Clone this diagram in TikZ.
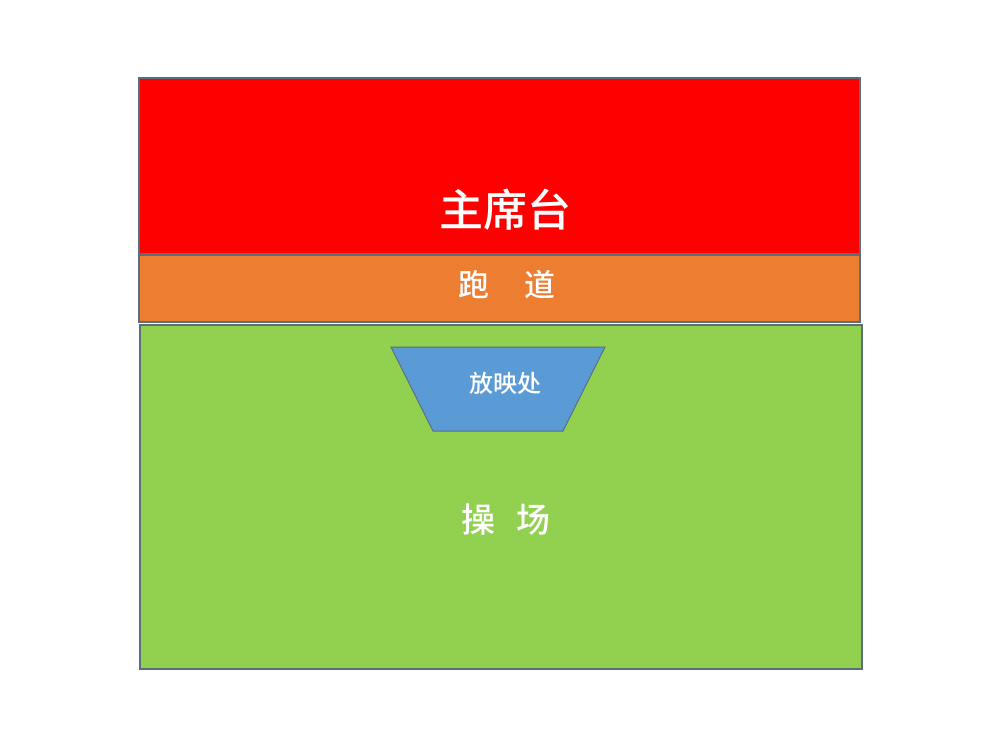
\documentclass[tikz,border=0pt]{standalone}
\usepackage{fontspec}
\newfontfamily\cjk{Noto Sans CJK SC Medium}
\definecolor{cred}{HTML}{FF0000}
\definecolor{corange}{HTML}{ED7D31}
\definecolor{cgreen}{HTML}{92D050}
\definecolor{cblue}{HTML}{5B9BD5}
\definecolor{cedge}{HTML}{5A6E7E}
\begin{document}
\begin{tikzpicture}[x=1pt,y=-1pt,
  area/.style={draw=cedge,line width=1.2pt},
  lbl/.style={text=white,font=\cjk,inner sep=0pt}]
\useasboundingbox (0,0) rectangle (1004,753);
\fill[white] (0,0) rectangle (1004,753);
\path[area,fill=cred] (139,78) rectangle (860,254);
\path[area,fill=corange] (139,255) rectangle (860,322);
\path[area,fill=cgreen] (140,325) rectangle (862,669);
\path[draw=cedge,line width=1pt,fill=cblue] (391,347) -- (605,347) -- (563,431) -- (433,431) -- cycle;
\node[lbl,font=\cjk\fontsize{44}{44}\selectfont] (zxt) at (505,210) {主席台};
\node[lbl,font=\cjk\fontsize{31}{31}\selectfont] (pd) at (507,285) {跑\hspace{1.1em}道};
\node[lbl,font=\cjk\fontsize{24}{24}\selectfont] (fyc) at (505,383) {放映处};
\node[lbl,font=\cjk\fontsize{34}{34}\selectfont] (cc) at (506,520) {操\hspace{0.6em}场};
\end{tikzpicture}
\end{document}
